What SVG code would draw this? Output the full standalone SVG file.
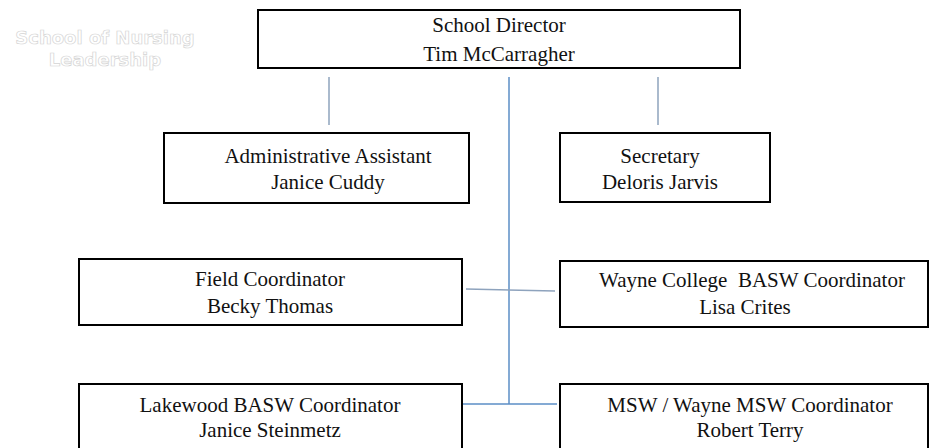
<svg xmlns="http://www.w3.org/2000/svg" width="932" height="448" viewBox="0 0 932 448">
  <style>
    .box { fill: #ffffff; stroke: #000000; stroke-width: 2; }
    .lbl { font-family: "Liberation Serif", "Times New Roman", serif; font-size: 21px; fill: #111111; text-anchor: middle; }
    .title { font-family: "DejaVu Sans", Verdana, sans-serif; font-weight: bold; font-size: 18px; fill: #ffffff; stroke: #d4d4d4; stroke-width: 0.7; text-anchor: middle; }
    .tie { fill: none; stroke: #8ea3bd; stroke-width: 1.5; }
    .trunk { fill: none; stroke: #5b8ec6; stroke-width: 1.5; }
  </style>
  <rect width="932" height="448" fill="#ffffff"/>

  <g id="heading">
    <text class="title" x="105" y="44">School of Nursing</text>
    <text class="title" x="105" y="66">Leadership</text>
  </g>

  <g id="connectors">
    <line class="tie" x1="329" y1="77" x2="329" y2="125"/>
    <line class="tie" x1="658" y1="77" x2="658" y2="125"/>
    <line class="trunk" x1="509" y1="77" x2="509" y2="404"/>
    <line class="tie" x1="466" y1="289" x2="555" y2="291"/>
    <line class="trunk" x1="462" y1="404" x2="557" y2="404"/>
  </g>

  <g id="director">
    <rect class="box" x="258" y="10" width="482" height="58"/>
    <text class="lbl" x="499" y="32">School Director</text>
    <text class="lbl" x="499" y="61">Tim McCarragher</text>
  </g>

  <g id="admin-assistant">
    <rect class="box" x="164" y="133" width="305" height="70"/>
    <text class="lbl" x="328" y="163">Administrative Assistant</text>
    <text class="lbl" x="328" y="189">Janice Cuddy</text>
  </g>

  <g id="secretary">
    <rect class="box" x="560" y="133" width="210" height="69"/>
    <text class="lbl" x="660" y="163">Secretary</text>
    <text class="lbl" x="660" y="189">Deloris Jarvis</text>
  </g>

  <g id="field-coordinator">
    <rect class="box" x="79" y="259" width="383" height="66"/>
    <text class="lbl" x="270" y="286">Field Coordinator</text>
    <text class="lbl" x="270" y="313">Becky Thomas</text>
  </g>

  <g id="wayne-basw">
    <rect class="box" x="560" y="261" width="368" height="66"/>
    <text class="lbl" x="752" y="287">Wayne College&#160; BASW Coordinator</text>
    <text class="lbl" x="745" y="314">Lisa Crites</text>
  </g>

  <g id="lakewood-basw">
    <rect class="box" x="79" y="384" width="383" height="70"/>
    <text class="lbl" x="270" y="412">Lakewood BASW Coordinator</text>
    <text class="lbl" x="270" y="437">Janice Steinmetz</text>
  </g>

  <g id="msw-coordinator">
    <rect class="box" x="560" y="384" width="368" height="70"/>
    <text class="lbl" x="750" y="412">MSW / Wayne MSW Coordinator</text>
    <text class="lbl" x="750" y="437">Robert Terry</text>
  </g>
</svg>
